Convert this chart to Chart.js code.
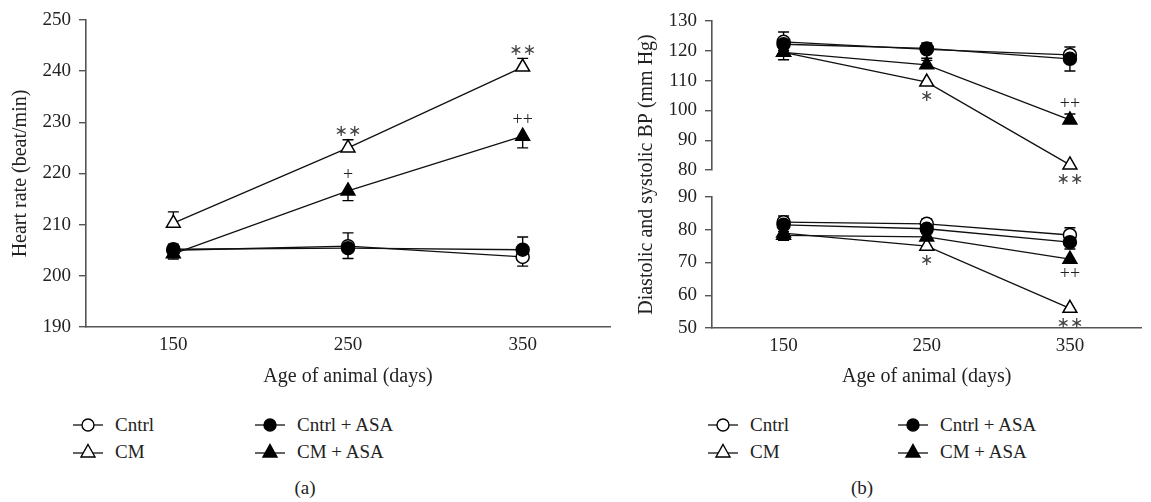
<!DOCTYPE html>
<html>
<head>
<meta charset="utf-8">
<script src="https://cdn.jsdelivr.net/npm/chart.js@4.4.0/dist/chart.umd.min.js"></script>
<style>
  body { margin: 0; background: #fff; width: 1151px; height: 502px; position: relative; overflow: hidden;
         font-family: "Liberation Serif", serif; color: #222; }
  #wrapA { position: absolute; left: 0; top: 0; width: 620px; height: 400px; }
  #wrapB { position: absolute; left: 620px; top: 0; width: 531px; height: 400px; }
  .legend { position: absolute; top: 413px; display: grid; row-gap: 3px; font-size: 19px; }
  .legend .item { display: flex; align-items: center; height: 24px; white-space: nowrap; }
  .legend svg { margin-right: 12px; }
  .cap { position: absolute; top: 477px; font-size: 19px; transform: translateX(-50%); }
</style>
</head>
<body>
<div id="wrapA"><canvas id="chartA"></canvas></div>
<div id="wrapB"><canvas id="chartB"></canvas></div>
<div class="legend" id="legA" style="left:73px; grid-template-columns:182px 180px;"></div>
<div class="legend" id="legB" style="left:708px; grid-template-columns:190px 180px;"></div>
<div class="cap" style="left:305px;">(a)</div>
<div class="cap" style="left:862px;">(b)</div>
<script>
const ages = [150, 250, 350];
const xTicks = [150, 250, 350];
const groups = ['Cntrl', 'CM', 'Cntrl + ASA', 'CM + ASA'];

// (a) heart rate (beat/min), mean and error
const hrCntrl = [205.0, 205.8, 203.7];
const hrCM = [210.3, 225.0, 240.8];
const hrCntrlASA = [205.2, 205.4, 205.1];
const hrCMASA = [204.3, 216.6, 227.3];
const hrCntrlErr = [1.0, 2.4, 1.8];
const hrCMErr = [2.2, 1.6, 1.7];
const hrCntrlASAErr = [1.0, 3.0, 2.5];
const hrCMASAErr = [1.0, 1.9, 2.3];

// (b) systolic BP (mm Hg)
const sysCntrl = [123.0, 120.5, 118.6];
const sysCM = [119.5, 109.5, 81.7];
const sysCntrlASA = [122.2, 120.8, 117.3];
const sysCMASA = [119.5, 115.3, 96.8];
const sysCntrlErr = [3.3, 2.1, 2.7];
const sysCMErr = [2.5, 1.0, 1.0];
const sysCntrlASAErr = [2.0, 3.3, 4.1];
const sysCMASAErr = [1.5, 1.5, 2.0];

// (b) diastolic BP (mm Hg)
const diaCntrl = [82.3, 81.8, 78.4];
const diaCM = [79.0, 75.0, 56.0];
const diaCntrlASA = [81.5, 80.3, 76.2];
const diaCMASA = [78.3, 77.8, 71.0];
const diaCntrlErr = [1.9, 1.5, 2.2];
const diaCMErr = [2.0, 1.0, 1.0];
const diaCntrlASAErr = [2.0, 1.5, 2.1];
const diaCMASAErr = [1.5, 1.0, 1.0];

// which way each group's error bar is drawn
const hrErrSide = { 'Cntrl': 'down', 'CM': 'up', 'Cntrl + ASA': 'up', 'CM + ASA': 'down' };
const sysErrSide = { 'Cntrl': 'up', 'CM': 'down', 'Cntrl + ASA': 'down', 'CM + ASA': 'up' };
const diaErrSide = { 'Cntrl': 'up', 'CM': 'down', 'Cntrl + ASA': 'down', 'CM + ASA': 'down' };

// significance marks: group, age index, text, side
const hrMarks = [['CM', 1, '∗∗', 'up'], ['CM', 2, '∗∗', 'up'], ['CM + ASA', 1, '+', 'up'], ['CM + ASA', 2, '++', 'up']];
const sysMarks = [['CM', 1, '∗', 'down'], ['CM', 2, '∗∗', 'down'], ['CM + ASA', 2, '++', 'up']];
const diaMarks = [['CM', 1, '∗', 'down'], ['CM', 2, '∗∗', 'down'], ['CM + ASA', 2, '++', 'down']];

const ink = '#111';
const axisGrey = '#555';
const font = { family: '"Liberation Serif", serif', size: 19 };
const titleFont = { family: '"Liberation Serif", serif', size: 20 };

const look = {
  'Cntrl': { pointStyle: 'circle', fill: '#fff', r: 6.5 },
  'CM': { pointStyle: 'triangle', fill: '#fff', r: 8 },
  'Cntrl + ASA': { pointStyle: 'circle', fill: '#000', r: 6.5 },
  'CM + ASA': { pointStyle: 'triangle', fill: '#000', r: 8 }
};

function makeSet(label, values, err, sides, axis, panel) {
  const s = look[label];
  return {
    label: label,
    data: ages.map((a, i) => ({ x: a, y: values[i] })),
    err: err,
    errSide: sides[label],
    panel: panel,
    yAxisID: axis,
    borderColor: ink,
    borderWidth: 1.3,
    pointStyle: s.pointStyle,
    pointRadius: s.r,
    pointBackgroundColor: s.fill,
    pointBorderColor: '#000',
    pointBorderWidth: 1.5,
    tension: 0
  };
}

// one-sided error bars, drawn under the lines and markers
const errorBars = {
  id: 'errorBars',
  beforeDatasetsDraw(chart) {
    const ctx = chart.ctx;
    ctx.save();
    ctx.strokeStyle = '#000';
    ctx.lineWidth = 1.4;
    chart.data.datasets.forEach((ds, i) => {
      const meta = chart.getDatasetMeta(i);
      const ys = chart.scales[ds.yAxisID];
      ds.data.forEach((p, j) => {
        const x = meta.data[j].x;
        const y0 = ys.getPixelForValue(p.y);
        const ends = [];
        if (ds.errSide !== 'down') ends.push(ys.getPixelForValue(p.y + ds.err[j]));
        if (ds.errSide !== 'up') ends.push(ys.getPixelForValue(p.y - ds.err[j]));
        ctx.beginPath();
        ends.forEach(ye => {
          ctx.moveTo(x, y0); ctx.lineTo(x, ye);
          ctx.moveTo(x - 5.5, ye); ctx.lineTo(x + 5.5, ye);
        });
        ctx.stroke();
      });
    });
    ctx.restore();
  }
};

// significance symbols next to points
const sigMarks = {
  id: 'sigMarks',
  afterDatasetsDraw(chart, args, opts) {
    const ctx = chart.ctx;
    ctx.save();
    ctx.textAlign = 'center';
    ctx.textBaseline = 'middle';
    opts.sets.forEach(([panel, marks]) => {
      marks.forEach(([grp, idx, txt, side]) => {
        const di = chart.data.datasets.findIndex(d => d.label === grp && d.panel === panel);
        const pt = chart.getDatasetMeta(di).data[idx];
        const dy = side === 'up' ? -16 : 15;
        if (txt.indexOf('+') >= 0) {
          ctx.font = '18px "Liberation Serif", serif';
          ctx.fillStyle = '#222';
        } else {
          ctx.font = '16px "DejaVu Sans", sans-serif';
          ctx.fillStyle = '#444';
        }
        ctx.fillText(txt, pt.x, pt.y + dy);
      });
    });
    ctx.restore();
  }
};

// one y title centred over the broken (stacked) axis
const stackTitle = {
  id: 'stackTitle',
  afterDraw(chart, args, opts) {
    const top = chart.scales[opts.top], bottom = chart.scales[opts.bottom];
    const ctx = chart.ctx;
    ctx.save();
    ctx.translate(opts.x, (top.top + bottom.bottom) / 2);
    ctx.rotate(-Math.PI / 2);
    ctx.textAlign = 'center';
    ctx.textBaseline = 'middle';
    ctx.fillStyle = '#222';
    ctx.font = titleFont.size + 'px ' + titleFont.family;
    ctx.fillText(opts.text, 0, 0);
    ctx.restore();
  }
};

function xScale(h) {
  return {
    type: 'linear', min: 100, max: 400,
    afterBuildTicks: s => { s.ticks = xTicks.map(v => ({ value: v })); },
    afterFit: s => { s.height = h; },
    grid: { display: false, drawTicks: false },
    border: { display: true, color: axisGrey, width: 1.6 },
    ticks: { font: font, color: '#222', padding: 7 },
    title: { display: true, text: 'Age of animal (days)', font: titleFont, color: '#222', padding: { top: 0, bottom: 11 } }
  };
}

function yScale(min, max, extra) {
  return Object.assign({
    type: 'linear', min: min, max: max,
    ticks: { stepSize: 10, autoSkip: false, font: font, color: '#222', padding: 8 },
    grid: { drawOnChartArea: false, drawTicks: true, tickLength: 7, color: axisGrey, lineWidth: 1.4 },
    border: { display: true, color: axisGrey, width: 1.6 }
  }, extra);
}

Chart.defaults.animation = false;

new Chart(document.getElementById('chartA'), {
  type: 'line',
  data: {
    datasets: [
      makeSet('CM + ASA', hrCMASA, hrCMASAErr, hrErrSide, 'y', 'hr'),
      makeSet('Cntrl + ASA', hrCntrlASA, hrCntrlASAErr, hrErrSide, 'y', 'hr'),
      makeSet('CM', hrCM, hrCMErr, hrErrSide, 'y', 'hr'),
      makeSet('Cntrl', hrCntrl, hrCntrlErr, hrErrSide, 'y', 'hr')
    ]
  },
  options: {
    responsive: true, maintainAspectRatio: false,
    layout: { padding: { top: 20, right: 10, left: 0, bottom: 0 } },
    plugins: { legend: { display: false }, tooltip: { enabled: false }, sigMarks: { sets: [['hr', hrMarks]] } },
    scales: {
      x: xScale(73),
      y: yScale(190, 250, {
        afterFit: s => { s.width = 86; },
        title: { display: true, text: 'Heart rate (beat/min)', font: titleFont, color: '#222', padding: { top: 9, bottom: 0 } }
      })
    }
  },
  plugins: [errorBars, sigMarks]
});

new Chart(document.getElementById('chartB'), {
  type: 'line',
  data: {
    datasets: [
      makeSet('CM + ASA', sysCMASA, sysCMASAErr, sysErrSide, 'ySys', 'sys'),
      makeSet('Cntrl + ASA', sysCntrlASA, sysCntrlASAErr, sysErrSide, 'ySys', 'sys'),
      makeSet('CM', sysCM, sysCMErr, sysErrSide, 'ySys', 'sys'),
      makeSet('Cntrl', sysCntrl, sysCntrlErr, sysErrSide, 'ySys', 'sys'),
      makeSet('CM + ASA', diaCMASA, diaCMASAErr, diaErrSide, 'yDia', 'dia'),
      makeSet('Cntrl + ASA', diaCntrlASA, diaCntrlASAErr, diaErrSide, 'yDia', 'dia'),
      makeSet('CM', diaCM, diaCMErr, diaErrSide, 'yDia', 'dia'),
      makeSet('Cntrl', diaCntrl, diaCntrlErr, diaErrSide, 'yDia', 'dia')
    ]
  },
  options: {
    responsive: true, maintainAspectRatio: false,
    layout: { padding: { top: 21, right: 0, left: 0, bottom: 0 } },
    plugins: { legend: { display: false }, tooltip: { enabled: false },
               sigMarks: { sets: [['sys', sysMarks], ['dia', diaMarks]] },
               stackTitle: { top: 'ySys', bottom: 'yDia', x: 27, text: 'Diastolic and systolic BP (mm Hg)' } },
    scales: {
      x: xScale(72),
      yDia: yScale(50, 90, { stack: 'bp', stackWeight: 131, afterFit: s => { s.width = 92; } }),
      yGap: {
        type: 'linear', min: 0, max: 1, stack: 'bp', stackWeight: 27,
        afterFit: s => { s.width = 92; },
        ticks: { display: false }, grid: { display: false }, border: { display: false }
      },
      ySys: yScale(80, 130, { stack: 'bp', stackWeight: 149, afterFit: s => { s.width = 92; } })
    }
  },
  plugins: [errorBars, sigMarks, stackTitle]
});

function symbol(name) {
  const s = look[name];
  const mark = s.pointStyle === 'circle'
    ? '<circle cx="15" cy="9" r="6" fill="' + s.fill + '" stroke="#000" stroke-width="1.4"/>'
    : '<polygon points="15,1.5 22,14 8,14" fill="' + s.fill + '" stroke="#000" stroke-width="1.4"/>';
  const ly = s.pointStyle === 'circle' ? 9 : 10;
  return '<svg width="30" height="18" viewBox="0 0 30 18"><line x1="0" y1="' + ly +
    '" x2="30" y2="' + ly + '" stroke="#111" stroke-width="1.3"/>' + mark + '</svg>';
}

['legA', 'legB'].forEach(id => {
  const box = document.getElementById(id);
  ['Cntrl', 'Cntrl + ASA', 'CM', 'CM + ASA'].forEach(g => {
    const d = document.createElement('div');
    d.className = 'item';
    d.innerHTML = symbol(g) + '<span>' + g + '</span>';
    box.appendChild(d);
  });
});
</script>
</body>
</html>
